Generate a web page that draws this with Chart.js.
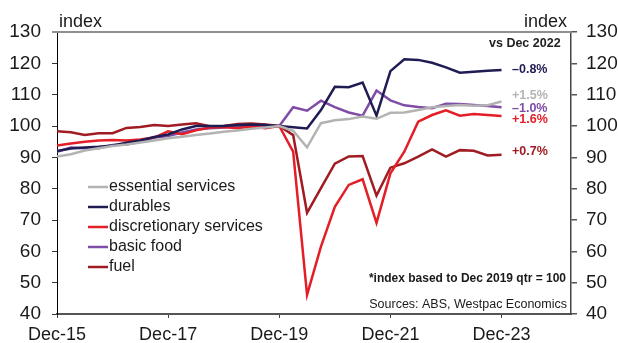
<!DOCTYPE html>
<html>
<head>
<meta charset="utf-8">
<script src="https://cdn.jsdelivr.net/npm/chart.js@4/dist/chart.umd.min.js"></script>
<style>
html,body{margin:0;padding:0;background:#fff;}
#wrap{width:618px;height:343px;position:relative;}
</style>
</head>
<body>
<div id="wrap"><canvas id="c" width="618" height="343"></canvas></div>
<script>
// ---- data ----
const quarters = ['Dec-15','Mar-16','Jun-16','Sep-16','Dec-16','Mar-17','Jun-17','Sep-17',
  'Dec-17','Mar-18','Jun-18','Sep-18','Dec-18','Mar-19','Jun-19','Sep-19',
  'Dec-19','Mar-20','Jun-20','Sep-20','Dec-20','Mar-21','Jun-21','Sep-21',
  'Dec-21','Mar-22','Jun-22','Sep-22','Dec-22','Mar-23','Jun-23','Sep-23','Dec-23'];
const xTickLabels = ['Dec-15','Dec-17','Dec-19','Dec-21','Dec-23'];
const seriesNames = ['essential services','durables','discretionary services','basic food','fuel'];
const essentialServices = [90.3,91.0,92.2,92.9,93.6,94.1,94.7,95.4,96.1,96.6,97.1,97.6,98.2,98.6,99.1,99.5,
  100,98.5,93.2,100.9,101.8,102.2,103.0,102.3,104.2,104.3,105.1,106.0,106.4,106.7,106.5,106.6,107.8];
const durables = [92.0,92.8,93.1,93.4,93.8,94.7,95.4,96.5,97.3,98.9,100.0,100.0,100.0,100.3,100.5,100.3,
  100,99.6,99.2,105.1,112.5,112.4,113.9,103.3,117.5,121.3,121.1,120.2,118.7,117.0,117.3,117.6,117.9];
const discretionaryServices = [93.8,94.4,95.0,95.4,95.5,95.4,95.7,96.3,98.3,97.4,98.6,99.5,99.7,99.3,99.8,99.3,
  100,91.8,46.1,61.5,74.2,81.2,83.0,69.1,84.9,91.8,101.4,103.5,105.0,103.3,103.8,103.5,103.2];
const basicFood = [91.8,93.1,92.9,92.9,93.9,94.1,95.0,96.3,96.8,97.9,98.9,99.3,99.5,99.8,100,99.8,
  100,106.0,104.9,108.1,106.0,104.3,103.3,111.3,108.2,106.6,106.1,105.7,107.1,107.0,106.7,106.4,106.0];
const fuel = [98.3,98.0,97.1,97.7,97.7,99.4,99.7,100.3,100.0,100.5,100.9,99.9,100.0,100.6,100.8,100.5,
  100,97.1,72.3,80.2,88.0,90.3,90.4,77.8,86.7,88.1,90.2,92.5,90.2,92.3,92.1,90.6,90.8];
const changeLabels = ['+1.5%','\u20130.8%','+1.6%','\u20131.0%','+0.7%'];
const changeTitle = 'vs Dec 2022';
const axisTitle = 'index';
const footNote = '*index based to Dec 2019 qtr = 100';
const sourceNote = 'Sources: ABS, Westpac Economics';

// ---- styles ----
const colors = ['#b3b3b3','#1f1c54','#e31e26','#7f4ca6','#a01b22'];
const labelNudge = [-6,0,3.5,1,-3.5];
const FONT = '"Liberation Sans", Arial, sans-serif';
const allSeries = [essentialServices, durables, discretionaryServices, basicFood, fuel];

const datasets = allSeries.map((vals, k) => ({
  label: seriesNames[k],
  data: vals.map((v, i) => ({x: i, y: v})),
  borderColor: colors[k],
  backgroundColor: colors[k],
  borderWidth: 2.5,
  pointRadius: 0,
  tension: 0,
  fill: false,
  yAxisID: 'y'
}));

const decor = {
  id: 'decor',
  afterDraw(chart) {
    const ctx = chart.ctx;
    const a = chart.chartArea;
    const y = chart.scales.y;
    ctx.save();
    // top frame line
    ctx.strokeStyle = '#8f8f8f';
    ctx.lineWidth = 2;
    ctx.beginPath(); ctx.moveTo(52, a.top); ctx.lineTo(a.right, a.top); ctx.stroke();
    // axis titles
    ctx.fillStyle = '#1a1a1a';
    ctx.font = '18px ' + FONT;
    ctx.textBaseline = 'alphabetic';
    ctx.textAlign = 'left';
    ctx.fillText(axisTitle, 59, 27);
    ctx.textAlign = 'right';
    ctx.fillText(axisTitle, 567, 27);
    // change title
    ctx.font = 'bold 12.5px ' + FONT;
    ctx.textAlign = 'left';
    ctx.textBaseline = 'middle';
    ctx.fillStyle = '#222';
    ctx.fillText(changeTitle, 489, 44);
    // end labels
    chart.data.datasets.forEach((ds, k) => {
      const last = ds.data[ds.data.length - 1].y;
      ctx.fillStyle = colors[k];
      ctx.fillText(changeLabels[k], 512, y.getPixelForValue(last) + labelNudge[k]);
    });
    // legend
    ctx.font = '16px ' + FONT;
    chart.data.datasets.forEach((ds, k) => {
      const ly = 187 + 20 * k;
      ctx.strokeStyle = colors[k];
      ctx.lineWidth = 2.5;
      ctx.beginPath(); ctx.moveTo(88, ly); ctx.lineTo(108, ly); ctx.stroke();
      ctx.fillStyle = '#1a1a1a';
      ctx.textAlign = 'left';
      ctx.fillText(ds.label, 109, ly);
    });
    // notes
    ctx.textAlign = 'right';
    ctx.textBaseline = 'alphabetic';
    ctx.fillStyle = '#1a1a1a';
    ctx.font = 'bold 12px ' + FONT;
    ctx.fillText(footNote, 566, 282);
    ctx.font = '12.5px ' + FONT;
    ctx.fillText(sourceNote, 567, 308);
    ctx.restore();
  }
};

new Chart(document.getElementById('c'), {
  type: 'line',
  data: { datasets },
  plugins: [decor],
  options: {
    responsive: false,
    animation: false,
    layout: { padding: { top: 32, left: 0, right: 0, bottom: 0 } },
    plugins: { legend: { display: false }, tooltip: { enabled: false } },
    scales: {
      x: {
        type: 'linear',
        min: 0, max: 37,
        afterBuildTicks(axis) {
          axis.ticks = xTickLabels.map(l => ({ value: quarters.indexOf(l) }));
        },
        afterFit(scale) { scale.height = 29; },
        ticks: {
          callback: (v) => quarters[v],
          color: '#1a1a1a',
          font: { family: FONT, size: 18 },
          padding: 6,
          maxRotation: 0,
          autoSkip: false
        },
        grid: { drawOnChartArea: false, tickLength: 4, color: '#444', lineWidth: 1 },
        border: { display: true, color: '#555', width: 2 }
      },
      y: {
        type: 'linear',
        position: 'left',
        min: 40, max: 130,
        afterFit(scale) { scale.width = 57; },
        ticks: { stepSize: 10, color: '#1a1a1a', font: { family: FONT, size: 19 }, padding: 11 },
        grid: { drawOnChartArea: false, tickLength: 5, color: '#333', lineWidth: 1 },
        border: { display: true, color: '#000', width: 1 }
      },
      y2: {
        type: 'linear',
        position: 'right',
        min: 40, max: 130,
        afterFit(scale) { scale.width = 47; },
        ticks: { stepSize: 10, color: '#1a1a1a', font: { family: FONT, size: 19 }, padding: 9 },
        grid: { drawOnChartArea: false, tickLength: 6, color: '#555', lineWidth: 1.5 },
        border: { display: true, color: '#444', width: 1.5 }
      }
    }
  }
});
</script>
</body>
</html>
